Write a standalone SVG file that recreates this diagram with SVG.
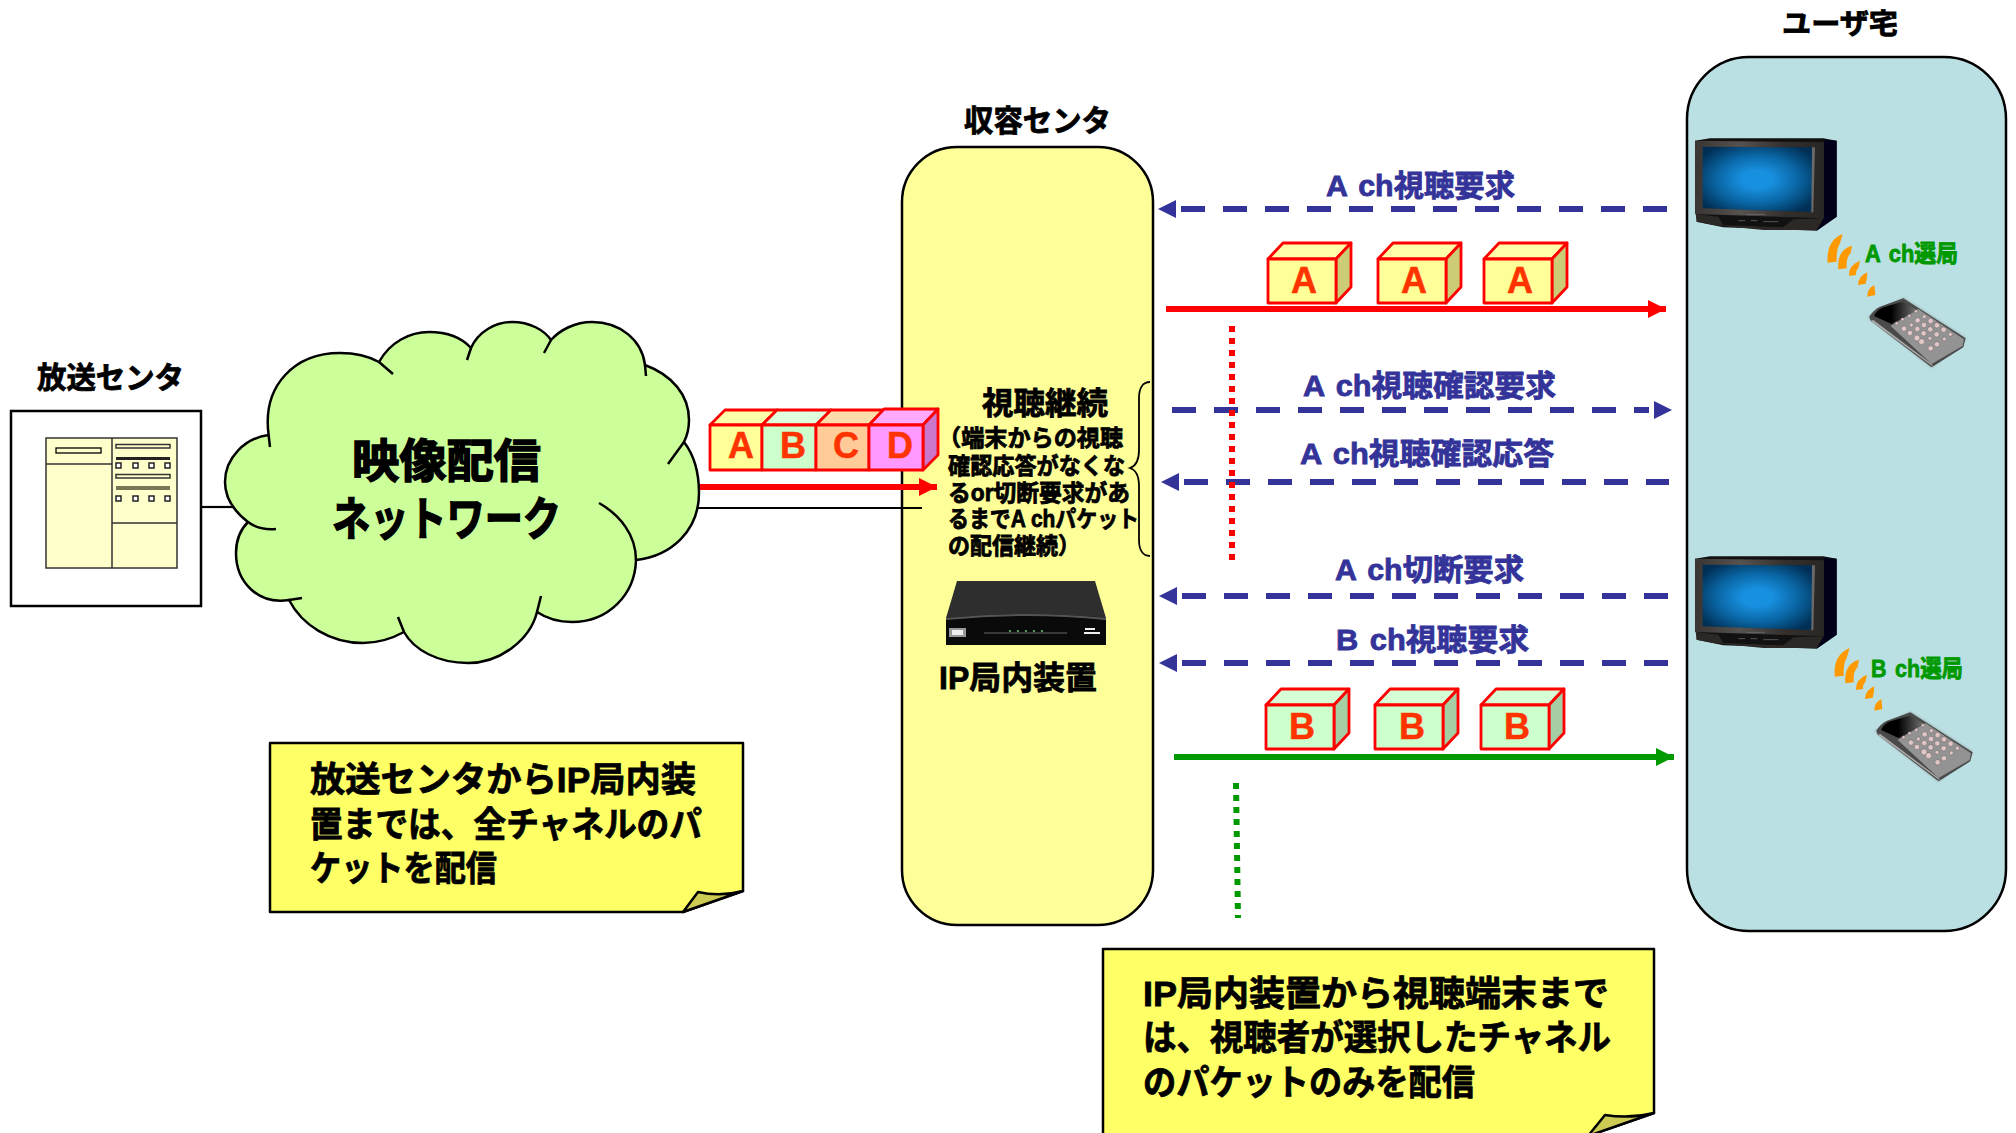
<svg xmlns="http://www.w3.org/2000/svg" width="2016" height="1133" viewBox="0 0 2016 1133">
<style>
text{font-family:"Liberation Sans","Noto Sans CJK JP",sans-serif;font-weight:700;fill:#000;stroke:#000;stroke-width:.8px}
.nv{fill:#333399;stroke:#333399;word-spacing:3px}
.gr{fill:#009900;stroke:#009900;word-spacing:3px}
.lt{fill:#ff3300;stroke:#ff3300;font-size:36px;text-anchor:middle;stroke-width:.5px}
.dash{fill:none;stroke:#333399;stroke-width:6;stroke-dasharray:24 18}
.dot{fill:none;stroke-width:6;stroke-dasharray:6 6}
.ln{fill:none;stroke:#000;stroke-width:2.2}
.cf{stroke:#ff0000;stroke-width:2.8;stroke-linejoin:round}
.note{fill:#ffff66;stroke:#000;stroke-width:2.5;stroke-linejoin:round}
.fold{fill:#cccc55;stroke:#000;stroke-width:2.5;stroke-linejoin:round}
.arc{fill:#ff9900}
.key{fill:#e2c6c6;stroke:#444;stroke-width:1}
.srv{fill:#ffffcc;stroke:#333;stroke-width:1.5}
</style>
<defs>
<radialGradient id="scr" cx=".5" cy=".5" r=".62"><stop offset=".22" stop-color="#1890e0"/><stop offset=".6" stop-color="#0a66a4"/><stop offset="1" stop-color="#002e54"/></radialGradient>
<linearGradient id="bez" x1="0" x2="1" y1="0" y2="0"><stop offset="0" stop-color="#3a3532"/><stop offset=".35" stop-color="#55524f"/><stop offset=".7" stop-color="#332f2c"/><stop offset="1" stop-color="#2a2624"/></linearGradient>
<linearGradient id="rs" x1="0" x2="1" y1="0" y2="0"><stop offset=".4" stop-color="#000"/><stop offset="1" stop-color="#777"/></linearGradient>
<filter id="soft" x="-10%" y="-10%" width="120%" height="120%"><feGaussianBlur stdDeviation="5"/></filter>
<marker id="hn" markerUnits="userSpaceOnUse" markerWidth="20" markerHeight="20" refX="-5" refY="9" orient="auto-start-reverse"><path d="M0,0L18,9L0,18Z" fill="#333399"/></marker>
<marker id="hr" markerUnits="userSpaceOnUse" markerWidth="20" markerHeight="20" refX="18" refY="9" orient="auto"><path d="M0,0L18,9L0,18Z" fill="#ff0000"/></marker>
<marker id="hg" markerUnits="userSpaceOnUse" markerWidth="20" markerHeight="20" refX="18" refY="9" orient="auto"><path d="M0,0L18,9L0,18Z" fill="#009900"/></marker>
<g id="cubeA">
<path class="cf" fill="#ffffaa" d="M0,16L15,0H83L68,16Z"/>
<path class="cf" fill="#cccc77" d="M68,16L83,0V44L68,60Z"/>
<path class="cf" fill="#ffff99" d="M0,16H68V60H0Z"/>
</g>
<g id="cubeB">
<path class="cf" fill="#d6ffd6" d="M0,16L15,0H83L68,16Z"/>
<path class="cf" fill="#a5cea5" d="M68,16L83,0V44L68,60Z"/>
<path class="cf" fill="#ccffcc" d="M0,16H68V60H0Z"/>
</g>
<g id="tv">
<path fill="#111" d="M45,92L90,85H430L470,92V320L410,362L130,352L50,335Z"/>
<path fill="#00001a" d="M432,90L470,92V320L410,362L432,325Z"/>
<path fill="url(#bez)" d="M45,92L432,97V325L45,312Z"/>
<path fill="#6a6a6a" d="M395,112H405L400,307H392Z"/>
<path fill="url(#scr)" d="M68,110L396,112L394,306L68,295Z"/>
<path fill="#2c2826" d="M47,312L115,320L130,345L310,352L340,328L430,325L410,360L250,360L100,345L50,335Z"/>
<path fill="none" stroke="#777" stroke-width="2" d="M175,332H195M212,332H232M250,335H295M200,313H255"/>
</g>
<g id="remote">
<path fill="#777" opacity=".7" filter="url(#soft)" d="M565,622L670,565L857,685L755,772Z"/>
<path fill="#4a4a4a" d="M568,620Q580,600 600,590L670,565L857,685L850,712L755,772L572,632Z"/>
<path fill="#aaa" d="M580,630L755,762L760,770L572,632Z"/>
<path fill="#939393" d="M632,648L715,597L852,688L848,708L755,762Z"/>
<path fill="url(#rs)" d="M582,618Q590,600 610,592L668,575L712,600L635,642Z"/>
<g class="key"><circle cx="650" cy="640" r="5"/><circle cx="668" cy="628" r="5"/><circle cx="688" cy="618" r="5"/><circle cx="708" cy="604" r="5"/><circle cx="733" cy="620" r="6"/><circle cx="713" cy="631" r="8"/><circle cx="694" cy="645" r="6"/><circle cx="672" cy="656" r="8"/><circle cx="752" cy="633" r="8"/><circle cx="732" cy="645" r="8"/><circle cx="712" cy="657" r="8"/><circle cx="690" cy="669" r="8"/><circle cx="771" cy="646" r="8"/><circle cx="751" cy="658" r="8"/><circle cx="731" cy="670" r="8"/><circle cx="711" cy="684" r="9"/><circle cx="725" cy="695" r="9"/><circle cx="791" cy="659" r="8"/><circle cx="770" cy="673" r="8"/><circle cx="750" cy="685" r="6"/><circle cx="811" cy="673" r="6"/><circle cx="793" cy="687" r="6"/><circle cx="771" cy="703" r="8"/><circle cx="752" cy="715" r="8"/></g>
</g>
<g id="waves">
<path class="arc" d="M443,458Q438,392 488,372L480,400Q468,420 470,455Z"/>
<path class="arc" d="M475,478Q470,420 516,407L512,430Q498,440 500,475Z"/>
<path class="arc" d="M507,498Q505,465 540,452L535,475Q527,482 528,495Z"/>
<path class="arc" d="M534,525Q535,498 562,487L560,510Q556,516 558,521Z"/>
<path class="arc" d="M562,560Q562,535 583,525L586,555Z"/>
</g>
</defs>
<rect width="2016" height="1133" fill="#fff"/>

<g id="broadcast-center">
<rect x="11" y="411" width="190" height="195" fill="#fff" stroke="#000" stroke-width="2.5"/>
<rect class="srv" x="46" y="438" width="131" height="130"/>
<path class="srv" d="M112,438V568M46,464H112M112,523H177"/>
<rect x="56" y="448" width="45" height="5" fill="#ffffcc" stroke="#000" stroke-width="1.3"/>
<path stroke="#333" stroke-width="1.500" fill="#ffffcc" d="M116,444.500H170V448H116Z"/>
<rect x="116" y="457" width="54" height="3" fill="#222"/>
<path stroke="#333" stroke-width="1.500" fill="#ffffcc" d="M116,474.500H170V478H116Z"/>
<rect x="116" y="486" width="54" height="4" fill="#777755"/>
<g fill="#fff" stroke="#222" stroke-width="1.500"><rect x="116" y="463" width="5" height="5"/><rect x="133" y="463" width="5" height="5"/><rect x="149" y="463" width="5" height="5"/><rect x="165" y="463" width="5" height="5"/><rect x="116" y="496" width="5" height="5"/><rect x="133" y="496" width="5" height="5"/><rect x="149" y="496" width="5" height="5"/><rect x="165" y="496" width="5" height="5"/></g>
<text x="37" y="388" font-size="30" textLength="147" lengthAdjust="spacingAndGlyphs">放送センタ</text>
</g>

<g id="accommodation-center">
<rect x="902" y="147" width="251" height="778" rx="55" ry="55" fill="#ffff99" stroke="#000" stroke-width="2.5"/>
<text x="964" y="131" font-size="30" textLength="147" lengthAdjust="spacingAndGlyphs">収容センタ</text>
</g>

<g id="connectors">
<path class="ln" d="M202,507H234"/>
<path class="ln" d="M697,508H922"/>
<path class="dash" marker-start="url(#hn)" d="M1181,209H1667"/>
<path class="dash" marker-end="url(#hn)" d="M1172,410H1649"/>
<path class="dash" marker-start="url(#hn)" d="M1184,482H1669"/>
<path class="dash" marker-start="url(#hn)" d="M1182,596H1669"/>
<path class="dash" marker-start="url(#hn)" d="M1182,663H1674"/>
</g>

<g id="cloud">
<path fill="#ccff99" stroke="#000" stroke-width="2.500" d="M268.600,435C262,385 295,353 340,353C355,353 370,357 379,362C390,342 410,332 429,332C447,332 462,338 471,348C478,332 495,322 512,322C530,322 544,330 551,340C560,330 575,322 592,322C620,322 642,340 645,365C672,375 689,395 689,420C689,428 687,436 684,442C694,455 699,472 699,493C699,530 672,556 636,560C635,595 608,622 572,622C558,622 546,618 537,612C530,640 500,663 468,663C438,663 414,650 404,632C393,638 378,643 363,643C330,643 302,625 289,600C258,605 236,582 236,553C236,540 240,530 248,522C235,512 225,498 225,482C225,458 245,438 268.600,435Z"/>
<path fill="none" stroke="#000" stroke-width="2.500" d="M268.600,435L270,447M379,362L393,374M471,348L467,360M551,340L544,353M645,365L646,376M684,442L668,464M636,560C636,535 620,515 599,503M541,596L537,612M404,632L398,617M289,600L302,598M248,522C256,528 265,530 276,529"/>
<text x="352" y="477" font-size="46" textLength="189" lengthAdjust="spacingAndGlyphs" style="stroke-width:1.5px">映像配信</text>
<text x="332" y="535" font-size="46" textLength="229" lengthAdjust="spacingAndGlyphs" style="stroke-width:1.5px">ネットワーク</text>
</g>

<g id="center-notes">
<text x="982" y="414" font-size="31" textLength="126" lengthAdjust="spacingAndGlyphs">視聴継続</text>
<text x="938" y="446" font-size="23" textLength="185" lengthAdjust="spacingAndGlyphs">（端末からの視聴</text>
<text x="948" y="474" font-size="23" textLength="177" lengthAdjust="spacingAndGlyphs">確認応答がなくな</text>
<text x="948" y="501" font-size="23" textLength="182" lengthAdjust="spacingAndGlyphs">るor切断要求があ</text>
<text x="948" y="527" font-size="23" textLength="191" lengthAdjust="spacingAndGlyphs">るまでA chパケット</text>
<text x="948" y="554" font-size="23" textLength="132" lengthAdjust="spacingAndGlyphs">の配信継続）</text>
<path fill="none" stroke="#000" stroke-width="1.800" d="M1150,382C1143,382 1139,388 1139,398V450C1139,460 1136,466 1130,468C1136,470 1139,476 1139,486V540C1139,550 1143,556 1150,556"/>
</g>
<g id="ip-device">
<path fill="#2e2e2e" d="M957,581H1095L1106,618H946Z"/>
<path fill="#0a0a0a" d="M946,618Q1026,610 1106,618V645H946Z"/>
<path fill="#555" d="M946,618Q1026,610 1106,618V620Q1026,612 946,620Z"/>
<rect x="949" y="628" width="17" height="9" fill="#999"/><rect x="952" y="630" width="11" height="5" fill="#eee"/>
<path stroke="#666" stroke-width="1" d="M984,633H1067"/>
<path stroke="#4a9a5a" stroke-width="2" stroke-dasharray="2 6" d="M1009,631H1045"/>
<path stroke="#eee" stroke-width="2" d="M1085,629H1095M1084,633H1100"/>
<text x="939" y="689" font-size="32" textLength="158" lengthAdjust="spacingAndGlyphs">IP局内装置</text>
</g>

<g id="packets-abcd">
<path class="cf" fill="#ffffaa" d="M710,425L725,410H777L762,425Z"/>
<path class="cf" fill="#ddffdd" d="M762,425L777,410H831L816,425Z"/>
<path class="cf" fill="#ffddaa" d="M816,425L831,410H884L869,425Z"/>
<path class="cf" fill="#ffaaff" d="M869,425L884,409H938L923,425Z"/>
<path class="cf" fill="#cc77cc" d="M923,425L938,409V455L923,470Z"/>
<rect class="cf" x="710" y="425" width="52" height="45" fill="#ffff99"/>
<rect class="cf" x="762" y="425" width="54" height="45" fill="#ccffcc"/>
<rect class="cf" x="816" y="425" width="53" height="45" fill="#ffcc99"/>
<rect class="cf" x="869" y="425" width="54" height="45" fill="#ff99ff"/>
<text class="lt" x="741" y="458">A</text>
<text class="lt" x="793" y="458">B</text>
<text class="lt" x="846" y="458">C</text>
<text class="lt" x="900" y="458">D</text>
</g>
<path id="red-arrow-in" fill="none" stroke="#ff0000" stroke-width="6" marker-end="url(#hr)" d="M700,487H937"/>

<g id="user-home">
<rect x="1687" y="57" width="319" height="874" rx="62" ry="62" fill="#bbe0e3" stroke="#000" stroke-width="2.5"/>
<text x="1782" y="34" font-size="28" textLength="116" lengthAdjust="spacingAndGlyphs">ユーザ宅</text>
</g>
<g id="tv-a" transform="translate(1680,110) scale(.3333)"><use href="#tv"/><use href="#waves"/><use href="#remote"/></g>
<text class="gr" x="1865" y="262" font-size="24" textLength="93" lengthAdjust="spacingAndGlyphs">A ch選局</text>
<g id="tv-b" transform="translate(1680,528) scale(.3333)"><use href="#tv"/></g>
<g id="remote-b" transform="translate(1687,524) scale(.3333)"><use href="#waves"/><use href="#remote"/></g>
<text class="gr" x="1871" y="677" font-size="24" textLength="92" lengthAdjust="spacingAndGlyphs">B ch選局</text>

<g id="packets-a">
<use href="#cubeA" x="1268" y="243"/><use href="#cubeA" x="1378" y="243"/><use href="#cubeA" x="1484" y="243"/>
<text class="lt" x="1304" y="293">A</text><text class="lt" x="1414" y="293">A</text><text class="lt" x="1520" y="293">A</text>
</g>
<path id="red-arrow-out" fill="none" stroke="#ff0000" stroke-width="6" marker-end="url(#hr)" d="M1166,309H1666"/>
<path id="red-dots" class="dot" stroke="#ff0000" d="M1232,326V560"/>

<g id="packets-b">
<use href="#cubeB" x="1266" y="689"/><use href="#cubeB" x="1375" y="689"/><use href="#cubeB" x="1481" y="689"/>
<text class="lt" x="1302" y="739">B</text><text class="lt" x="1412" y="739">B</text><text class="lt" x="1517" y="739">B</text>
</g>
<path id="green-arrow" fill="none" stroke="#009900" stroke-width="6" marker-end="url(#hg)" d="M1174,757H1674"/>
<path id="green-dots" class="dot" stroke="#009900" d="M1236,783L1238,918"/>

<g id="labels">
<text class="nv" x="1326" y="196" font-size="30" textLength="189" lengthAdjust="spacingAndGlyphs">A ch視聴要求</text>
<text class="nv" x="1303" y="396" font-size="30" textLength="253" lengthAdjust="spacingAndGlyphs">A ch視聴確認要求</text>
<text class="nv" x="1300" y="464" font-size="30" textLength="254" lengthAdjust="spacingAndGlyphs">A ch視聴確認応答</text>
<text class="nv" x="1335" y="580" font-size="30" textLength="189" lengthAdjust="spacingAndGlyphs">A ch切断要求</text>
<text class="nv" x="1336" y="650" font-size="30" textLength="193" lengthAdjust="spacingAndGlyphs">B ch視聴要求</text>
</g>

<g id="note-1">
<path class="note" d="M270,743H743V891L683,912H270Z"/>
<path class="fold" d="M683,912L698,892Q720,897 743,891Z"/>
<text x="310" y="792" font-size="35" textLength="386" lengthAdjust="spacingAndGlyphs">放送センタからIP局内装</text>
<text x="310" y="837" font-size="35" textLength="392" lengthAdjust="spacingAndGlyphs">置までは、全チャネルのパ</text>
<text x="310" y="881" font-size="35" textLength="187" lengthAdjust="spacingAndGlyphs">ケットを配信</text>
</g>
<g id="note-2">
<path class="note" d="M1103,949H1654V1113L1588,1136H1103Z"/>
<path class="fold" d="M1588,1136L1605,1115Q1630,1119 1654,1113Z"/>
<text x="1143" y="1006" font-size="35" textLength="466" lengthAdjust="spacingAndGlyphs">IP局内装置から視聴端末まで</text>
<text x="1143" y="1050" font-size="35" textLength="468" lengthAdjust="spacingAndGlyphs">は、視聴者が選択したチャネル</text>
<text x="1143" y="1095" font-size="35" textLength="332" lengthAdjust="spacingAndGlyphs">のパケットのみを配信</text>
</g>
</svg>
